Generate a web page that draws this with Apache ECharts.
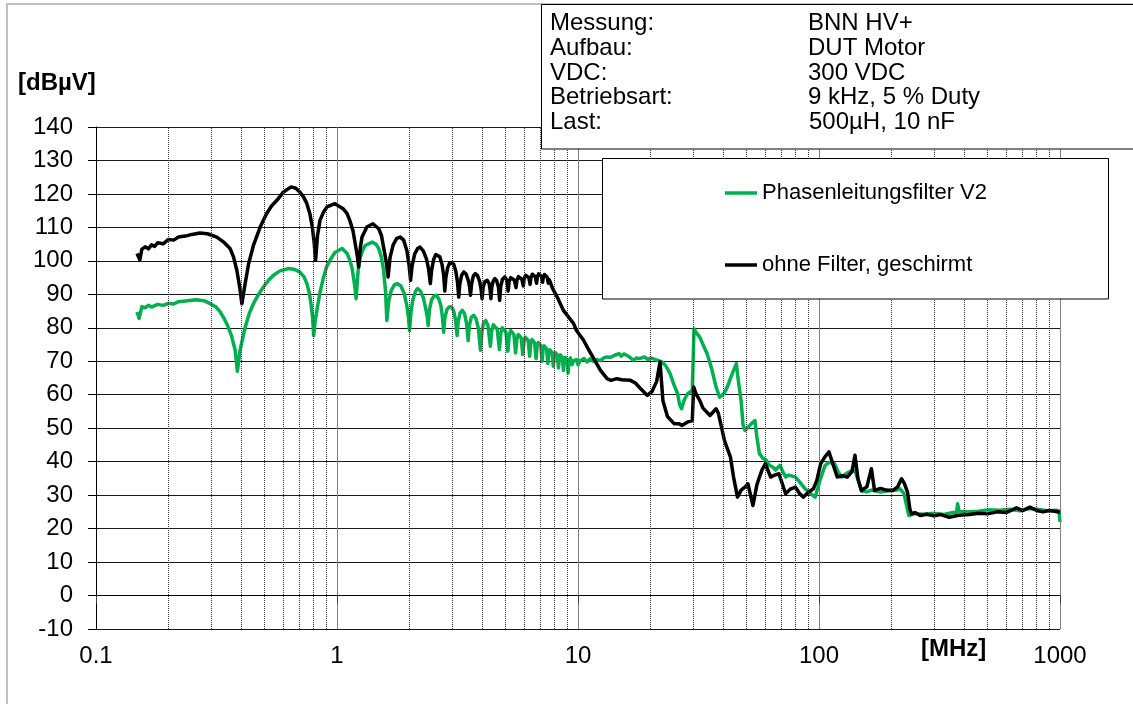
<!DOCTYPE html>
<html>
<head>
<meta charset="utf-8">
<script src="https://cdn.jsdelivr.net/npm/echarts@6/dist/echarts.min.js"></script>
<style>
  html, body { margin: 0; padding: 0; background: #fff; }
  #chart { width: 1133px; height: 704px; }
</style>
</head>
<body>
<div id="chart"></div>
<script>
// Conducted emission spectrum, HV+ line, with and without phase line filter
const FONT = '"Liberation Sans", Arial, sans-serif';

const yTicks = { min: -10, max: 140, step: 10 };
const freqRange = { min: 0.1, max: 1000 };
// dotted intermediate gridlines (2..9 of each decade)
const minorFreqs = [0.2, 0.3, 0.4, 0.5, 0.6, 0.7, 0.8, 0.9,
                    2, 3, 4, 5, 6, 7, 8, 9,
                    20, 30, 40, 50, 60, 70, 80, 90,
                    200, 300, 400, 500, 600, 700, 800, 900];

const infoLabels = ['Messung:', 'Aufbau:', 'VDC:', 'Betriebsart:', 'Last:'];
const infoValues = ['BNN HV+', 'DUT Motor', '300 VDC', '9 kHz, 5 % Duty', '500µH, 10 nF'];

const seriesNames = ['Phasenleitungsfilter V2', 'ohne Filter, geschirmt'];
const seriesColors = ['#00B050', '#000000'];

// [frequency MHz, level dBµV]
const filterV2 = [
  [0.148,84.7],[0.151,82.8],[0.155,86.3],[0.16,86],[0.165,86.7],[0.17,86.2],[0.18,87],[0.19,86.7],
  [0.2,87.3],[0.21,87.1],[0.22,87.8],[0.24,88.1],[0.26,88.4],[0.28,88.1],[0.298,87.2],[0.315,86.2],
  [0.327,84.8],[0.34,82.8],[0.352,80.6],[0.365,77.6],[0.378,73.3],[0.386,67],[0.396,73.3],[0.416,80.2],
  [0.432,84.2],[0.45,87.2],[0.472,89.9],[0.495,92.2],[0.52,94.2],[0.545,95.7],[0.58,97],[0.63,97.7],
  [0.67,97.4],[0.7,96.7],[0.73,95.2],[0.75,93.2],[0.768,90.3],[0.78,87.2],[0.792,83],[0.8,77.7],
  [0.812,82],[0.825,85.2],[0.85,90.6],[0.88,95.2],[0.905,98.2],[0.936,100.2],[0.98,102.5],[1.05,103.7],
  [1.1,102.3],[1.13,100.2],[1.155,97.8],[1.17,95.2],[1.188,91.8],[1.2,88.7],[1.225,97.5],[1.25,101.2],
  [1.28,103.3],[1.31,104.6],[1.4,105.6],[1.45,105],[1.49,103.7],[1.53,100.9],[1.56,97.2],[1.59,91],
  [1.61,82.2],[1.64,88],[1.68,91.2],[1.73,92.8],[1.78,93.2],[1.84,92.5],[1.9,90.3],[1.95,86.5],
  [1.98,83],[2.0,79.2],[2.03,85],[2.07,88.8],[2.12,91],[2.16,91.7],[2.22,91],[2.28,89],
  [2.33,86],[2.37,83.2],[2.39,80.7],[2.42,85.5],[2.47,88.4],[2.53,89.5],[2.59,89.7],[2.65,88.5],
  [2.7,86.5],[2.74,83],[2.77,78.7],[2.8,82.8],[2.86,85.5],[2.93,86.3],[2.99,86.2],[3.05,85],
  [3.1,82.5],[3.15,77.7],[3.18,81.8],[3.24,84.4],[3.31,85.2],[3.38,84.3],[3.45,81.2],[3.5,76.2],
  [3.54,80.6],[3.61,83.2],[3.69,83.7],[3.77,82.8],[3.86,79.8],[3.94,73.3],[3.99,78.6],[4.06,81.6],
  [4.14,82.2],[4.23,80.7],[4.33,74.5],[4.38,78.8],[4.45,80.9],[4.53,81.2],[4.62,79.6],[4.72,73.5],
  [4.78,78.3],[4.85,80],[4.93,80.3],[5.02,78.8],[5.12,73],[5.18,77.5],[5.25,79.2],[5.33,79.5],
  [5.42,78],[5.51,72.5],[5.58,76.6],[5.65,78],[5.72,78.3],[5.81,77],[5.9,72],[5.97,75.9],
  [6.04,77.2],[6.12,77.5],[6.21,76.2],[6.3,71.5],[6.37,75.3],[6.44,76.5],[6.52,76.8],[6.61,75.5],
  [6.7,70.8],[6.77,74.5],[6.84,75.6],[6.92,75.8],[7.01,74.7],[7.1,70],[7.17,73.6],[7.24,74.6],
  [7.32,74.8],[7.41,73.7],[7.5,69.3],[7.57,72.6],[7.64,73.4],[7.72,73.5],[7.81,72.6],[7.9,68.5],
  [7.97,71.8],[8.04,72.6],[8.12,72.8],[8.21,71.9],[8.3,68],[8.37,71.2],[8.44,71.9],[8.52,72],
  [8.61,71.1],[8.7,67.3],[8.77,70.6],[8.84,71.2],[8.92,71.3],[9.01,70.4],[9.1,66.5],[9.18,70.3],
  [9.3,71],[9.45,69],[9.6,70.2],[9.85,70.5],[10.0,69],[10.2,70.2],[10.6,70.8],[10.9,69.8],
  [11.2,70.7],[11.6,70],[12,70.5],[12.4,70.2],[12.8,71],[13.2,71.3],[13.7,71.2],[14.2,71.8],
  [14.8,72.3],[15.1,71.5],[15.5,72.2],[16.2,71.5],[17,70.3],[17.5,71],[18,70.8],[18.9,71.3],
  [19.5,70.5],[20,71],[21,70.5],[22.3,69.8],[23.2,68.5],[24.1,66.3],[25,63],[25.9,60.3],
  [26.4,57],[26.9,55.8],[27.6,58.5],[28.5,60.3],[29.8,61.3],[30.3,79.7],[31,78.5],[32,77.2],
  [33,75],[34.3,72.3],[35.3,69.5],[36,67.3],[37.4,62.3],[38.7,59.3],[39.4,59.3],[40.5,60.5],
  [41.6,62.3],[43.5,66],[45.4,69.3],[46.3,64],[47.5,58.3],[48.4,51],[49.3,49.3],[52.3,51.3],
  [54.2,52.3],[55.2,47.5],[56.6,42.4],[58.5,41],[60.5,40.4],[62,39],[64.2,38.4],[66,37.5],
  [69,38.9],[70.5,37.3],[72.7,35.4],[75,36],[79.9,35.4],[84,33.5],[87.6,31.9],[92,30.5],
  [96.4,29.4],[100.9,34.4],[106,38.9],[110,39.8],[116,39.4],[120,37],[124,35.4],[130,36.5],
  [136,37.2],[141,37.4],[146,34],[150,31.2],[158,31],[165,31.5],[180,30.9],[195,31.3],
  [210,31.5],[217,31.9],[225,30.5],[236,23.9],[250,24.5],[270,24.3],[300,24.6],[330,24.2],
  [360,24.8],[372,24.9],[376,27.4],[381,25.2],[420,25],[460,25.2],[500,25.6],[560,25.5],
  [620,25.8],[680,25.3],[750,26],[820,25.7],[900,25.3],[970,25.5],[990,25.2],[1000,22]
];

const ohneFilter = [
  [0.148,102.2],[0.152,100.3],[0.155,103.5],[0.16,104.2],[0.165,103.6],[0.17,104.8],[0.175,104.3],[0.18,105.4],
  [0.19,105.1],[0.2,106.4],[0.21,106.2],[0.22,107.1],[0.235,107.4],[0.25,107.9],[0.27,108.3],[0.29,108.1],
  [0.317,107.1],[0.34,105.5],[0.36,103.7],[0.372,101.2],[0.384,97.2],[0.395,92],[0.403,87.2],[0.416,93.3],
  [0.43,99.2],[0.45,104.6],[0.48,110.1],[0.51,114.1],[0.535,116.4],[0.563,118.1],[0.6,120.6],[0.645,122.1],
  [0.675,121.7],[0.7,120.6],[0.725,119.2],[0.75,117.1],[0.772,114],[0.79,110.1],[0.803,105.8],[0.815,100.2],
  [0.83,107.5],[0.85,112.1],[0.878,114.5],[0.909,116.1],[0.98,117.1],[1.06,115.6],[1.1,114.2],[1.13,112.1],
  [1.165,109],[1.19,105.1],[1.212,101.8],[1.23,98.2],[1.25,104],[1.27,107.1],[1.33,110.1],[1.41,111.1],
  [1.49,109.6],[1.53,107.5],[1.56,104.1],[1.6,99.8],[1.63,95.2],[1.66,101],[1.71,104.8],[1.77,106.7],
  [1.83,107.1],[1.89,106.2],[1.95,103],[1.99,98.8],[2.02,94.2],[2.05,98.6],[2.1,102],[2.16,103.7],
  [2.21,104.1],[2.28,103],[2.35,100.6],[2.4,97.5],[2.44,93.2],[2.47,97.3],[2.52,100.5],[2.57,101.9],
  [2.61,102.2],[2.67,101.2],[2.73,98.8],[2.77,95.8],[2.8,91],[2.83,95],[2.88,98],[2.94,99.5],
  [2.98,99.7],[3.05,99],[3.11,97],[3.16,93.8],[3.2,89.2],[3.23,92.8],[3.29,95.7],[3.36,96.7],
  [3.43,96.1],[3.5,94.3],[3.55,92.3],[3.58,89.7],[3.62,93.2],[3.68,95.5],[3.75,96.2],[3.83,95.6],
  [3.91,93.8],[3.96,91.6],[4.0,88.7],[4.04,92.2],[4.11,93.8],[4.2,94.2],[4.28,93.2],[4.32,91.2],
  [4.35,88.7],[4.39,92.2],[4.45,94],[4.52,94.7],[4.6,94],[4.68,92],[4.73,88.2],[4.78,92.4],
  [4.86,94.5],[4.97,95.2],[5.05,94.4],[5.1,92.8],[5.13,91],[5.18,93.8],[5.26,95],[5.35,95.3],
  [5.45,94.2],[5.53,92],[5.58,94.2],[5.66,95.3],[5.75,95.6],[5.85,94.5],[5.93,92.5],[5.98,94.7],
  [6.06,95.7],[6.15,96],[6.25,95],[6.33,93],[6.38,95],[6.46,96],[6.55,96.2],[6.65,95.3],
  [6.73,93.3],[6.78,95.2],[6.86,96.1],[6.95,96.3],[7.05,95.4],[7.13,93.6],[7.18,95.2],[7.26,95.9],
  [7.35,96],[7.45,95.1],[7.53,93.3],[7.6,94.4],[7.7,94.3],[7.85,91.7],[8.2,89.2],[8.7,85.2],
  [9.6,81.2],[9.85,79.2],[10.5,76.5],[11.2,72.8],[11.9,69.5],[12.4,67.3],[13.2,64.8],[13.7,64.3],
  [14.5,64.8],[15.2,64.5],[16.5,64.3],[17.3,63.5],[18.2,61.8],[19.4,59.8],[20.3,61],[21.2,64],
  [21.9,69.8],[22.5,58.3],[23.5,53.5],[25.1,51.3],[26.3,51.3],[27,50.8],[28.4,51.8],[29.8,52.3],
  [30.2,62.3],[31,60],[32,58.3],[33,56],[35.3,53.8],[37.4,55.8],[38.2,54.5],[39.4,50.3],
  [40.5,46.4],[41.4,44.4],[42.9,41.4],[44.2,35.4],[45.9,29.4],[47.5,31.5],[49.3,32.4],[50.7,33.4],
  [53.2,26.9],[55.2,33],[56.6,35.4],[58,37.5],[59.9,39.4],[63,35.4],[65.5,36],[68.2,36.4],
  [72.7,30.4],[76,31.8],[79.9,32.4],[83,30.5],[86.2,29.4],[90,30.8],[94.8,31.9],[98,34.5],
  [101.6,39.4],[106,41.5],[110,42.9],[114,39.5],[119,35.4],[125,35.8],[131,35.4],[137,37],
  [141,41.9],[145,35],[150,31.4],[158,32.5],[165,37.9],[170,31.4],[180,32],[190,31.5],
  [203,31.4],[212,32.5],[220,34.9],[226,33.5],[233,30.9],[238,26],[242,24.4],[250,24.8],
  [263,23.9],[280,24.3],[300,23.8],[320,24.2],[347,23.4],[380,24],[420,24.2],[460,24.6],
  [500,24.4],[550,25],[600,24.8],[660,26.2],[700,25.4],[750,26.4],[800,25.4],[850,25],
  [900,25.4],[950,25.2],[1000,24.9]
];

const chart = echarts.init(document.getElementById('chart'), null, { renderer: 'canvas' });

const infoTexts = [];
infoLabels.forEach((t, i) => {
  const y = 23.5 + i * 24.75;
  infoTexts.push({ type: 'text', z: 12, x: 550, y: y,
    style: { text: t, font: '24px ' + FONT, fill: '#000', verticalAlign: 'middle' } });
  infoTexts.push({ type: 'text', z: 12, x: i === 4 ? 809 : 808, y: y,
    style: { text: infoValues[i], font: '24px ' + FONT, fill: '#000', verticalAlign: 'middle' } });
});

const option = {
  animation: false,
  backgroundColor: '#ffffff',
  textStyle: { fontFamily: FONT },
  grid: { left: 96, top: 127, width: 964, height: 502, containLabel: false },
  legend: {
    data: seriesNames,
    orient: 'vertical',
    left: 725,
    top: 182,
    padding: 0,
    itemGap: 50,
    itemWidth: 32,
    itemHeight: 3.5,
    icon: 'rect',
    z: 20,
    selectedMode: false,
    textStyle: { fontSize: 22, color: '#000', fontFamily: FONT }
  },
  xAxis: {
    type: 'log',
    logBase: 10,
    min: freqRange.min,
    max: freqRange.max,
    axisLine: { show: true, lineStyle: { color: '#000', width: 1 } },
    axisTick: { show: true, inside: false, length: 8, lineStyle: { color: '#404040' } },
    axisLabel: {
      margin: 15, fontSize: 24, color: '#000', fontFamily: FONT,
      formatter: v => String(+Number(v).toPrecision(6))
    },
    splitLine: { show: true, lineStyle: { color: '#808080', width: 1 } },
    minorTick: { show: false },
    minorSplitLine: { show: false }
  },
  yAxis: {
    type: 'value',
    min: yTicks.min,
    max: yTicks.max,
    interval: yTicks.step,
    axisLine: { show: true, lineStyle: { color: '#000', width: 1 } },
    axisTick: { show: true, inside: false, length: 8, lineStyle: { color: '#000' } },
    axisLabel: { margin: 23, fontSize: 24, color: '#000', fontFamily: FONT },
    splitLine: { show: true, lineStyle: { color: '#1a1a1a', width: 1 } }
  },
  graphic: [
    // outer chart frame
    { type: 'rect', z: 5, shape: { x: 7, y: 4, width: 1300, height: 900 },
      style: { fill: 'none', stroke: '#c0c0c0', lineWidth: 2 } },
    // measurement info box
    { type: 'rect', z: 10, shape: { x: 541.5, y: 4.5, width: 700, height: 144.5 },
      style: { fill: '#fff', stroke: '#000', lineWidth: 1 } },
    ...infoTexts,
    // legend frame
    { type: 'rect', z: 10, shape: { x: 602.5, y: 158.5, width: 506, height: 140.5 },
      style: { fill: '#fff', stroke: '#000', lineWidth: 1 } },
    // unit labels
    { type: 'text', z: 12, x: 18, y: 83,
      style: { text: '[dBµV]', font: 'bold 24px ' + FONT, fill: '#000', verticalAlign: 'middle' } },
    { type: 'text', z: 12, x: 921, y: 649,
      style: { text: '[MHz]', font: 'bold 24px ' + FONT, fill: '#000', verticalAlign: 'middle' } }
  ],
  series: [
    {
      name: 'minorGrid',
      type: 'line',
      data: [],
      silent: true,
      z: 1,
      markLine: {
        silent: true,
        animation: false,
        symbol: ['none', 'none'],
        label: { show: false },
        emphasis: { disabled: true },
        lineStyle: { type: 'dotted', color: '#333333', width: 1 },
        data: minorFreqs.map(f => ({ xAxis: f }))
      }
    },
    {
      name: seriesNames[0],
      type: 'line',
      data: filterV2,
      symbol: 'none',
      showSymbol: false,
      smooth: false,
      color: seriesColors[0],
      lineStyle: { color: seriesColors[0], width: 3.5, join: 'round' },
      z: 3
    },
    {
      name: seriesNames[1],
      type: 'line',
      data: ohneFilter,
      symbol: 'none',
      showSymbol: false,
      smooth: false,
      color: seriesColors[1],
      lineStyle: { color: seriesColors[1], width: 3.5, join: 'round' },
      z: 4
    }
  ]
};

chart.setOption(option);
</script>
</body>
</html>
